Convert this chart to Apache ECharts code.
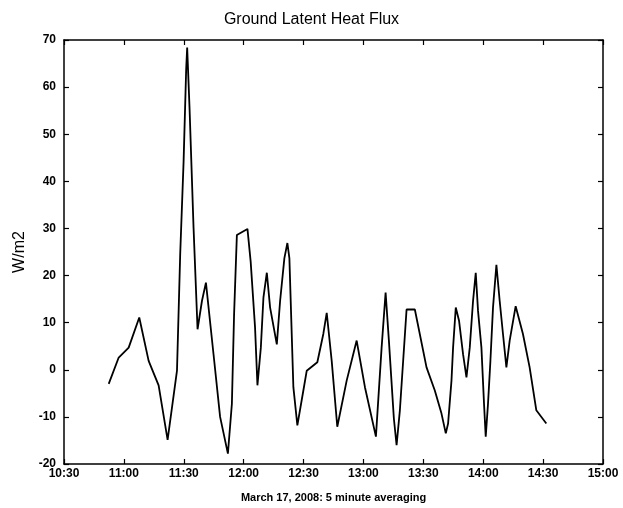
<!DOCTYPE html>
<html><head><meta charset="utf-8">
<script src="https://cdn.jsdelivr.net/npm/echarts@6/dist/echarts.min.js"></script>
<style>html,body{margin:0;padding:0;background:#fff}#c{width:623px;height:508px}</style>
</head><body><div id="c"></div>
<script>
// time in minutes after midnight
const times = [652.4,657.4,662.4,667.7,672.4,677.4,681.9,686.6,688.2,689.9,691.2,691.7,692.9,694.9,696.9,699.1,701.1,704.9,708.2,712.1,714.1,715.2,716.6,721.9,723.5,725.7,726.9,728.6,729.9,731.6,733.25,736.6,738.25,740.4,741.9,742.9,744.9,746.9,749.9,751.6,756.9,759.9,761.6,764.1,766.9,771.6,776.6,780.75,786.25,789.1,791.1,792.75,795.25,796.6,798.25,801.6,805.75,811.6,815.75,819.1,821.25,822.4,824.1,824.9,826.25,827.9,829.9,831.6,833.25,834.9,836.25,837.4,839.1,840.4,841.25,842.4,843.6,844.9,846.6,848.25,849.9,851.6,853.25,856.25,859.9,863.25,866.6,871.6];
const flux = [-3.0,2.6,4.7,11.1,1.9,-3.3,-14.9,-0.2,24.4,44.1,63.8,68.4,55.4,30.1,8.6,14.6,18.5,3.3,-10.0,-17.8,-7.2,11.8,28.6,29.9,23.0,9.0,-3.3,4.7,15.3,20.6,13.2,5.4,14.6,23.7,26.9,23.7,-3.7,-11.8,-4.4,-0.2,1.6,7.6,12.1,1.9,-12.1,-2.3,6.2,-3.7,-14.2,4.7,16.4,6.2,-10.4,-16.0,-8.6,12.8,12.8,0.5,-4.4,-9.3,-13.5,-11.4,-2.3,4.7,13.2,10.4,3.3,-1.6,4.7,14.6,20.6,12.5,4.7,-7.2,-14.2,-7.2,1.9,13.2,22.3,14.6,7.6,0.5,6.2,13.5,7.6,0.5,-8.6,-11.4];
const titleText = "Ground Latent Heat Flux";
const xName = "March 17, 2008: 5 minute averaging";
const yName = "W/m2";

function fmt(v){const h=Math.floor(v/60), m=Math.round(v-h*60);return h+":"+(m<10?"0"+m:m);}
const font = "Liberation Sans, Arial, sans-serif";
const axisLine = {show:true,onZero:false,lineStyle:{color:'#000',width:1.5}};
const axisTick = {show:true,inside:true,length:5,lineStyle:{color:'#000',width:1.2}};
const chart = echarts.init(document.getElementById('c'));
chart.setOption({
  animation:false,
  backgroundColor:'#fff',
  title:{text:titleText,left:'center',top:7,textStyle:{fontFamily:font,fontSize:16,fontWeight:'normal',color:'#000'}},
  grid:{left:64,right:20,top:40,bottom:41},
  xAxis:[{type:'value',min:630,max:900,interval:30,position:'bottom',
    name:xName,nameLocation:'middle',nameGap:28,
    nameTextStyle:{fontFamily:font,fontSize:11,fontWeight:'bold',color:'#000'},
    axisLine:axisLine,axisTick:axisTick,splitLine:{show:false},
    axisLabel:{formatter:fmt,fontFamily:font,fontSize:12,fontWeight:'bold',color:'#000',margin:4}},
   {type:'value',min:630,max:900,interval:30,position:'top',
    axisLine:axisLine,axisTick:axisTick,splitLine:{show:false},axisLabel:{show:false}}],
  yAxis:[{type:'value',min:-20,max:70,interval:10,position:'left',
    name:yName,nameLocation:'middle',nameGap:36,nameRotate:90,
    nameTextStyle:{fontFamily:font,fontSize:16,color:'#000'},
    axisLine:axisLine,axisTick:axisTick,splitLine:{show:false},
    axisLabel:{fontFamily:font,fontSize:12,fontWeight:'bold',color:'#000',margin:8}},
   {type:'value',min:-20,max:70,interval:10,position:'right',
    axisLine:axisLine,axisTick:axisTick,splitLine:{show:false},axisLabel:{show:false}}],
  series:[{type:'line',xAxisIndex:0,yAxisIndex:0,showSymbol:false,
    data:times.map((t,i)=>[t,flux[i]]),
    lineStyle:{color:'#000',width:1.8}}]
});
</script></body></html>
